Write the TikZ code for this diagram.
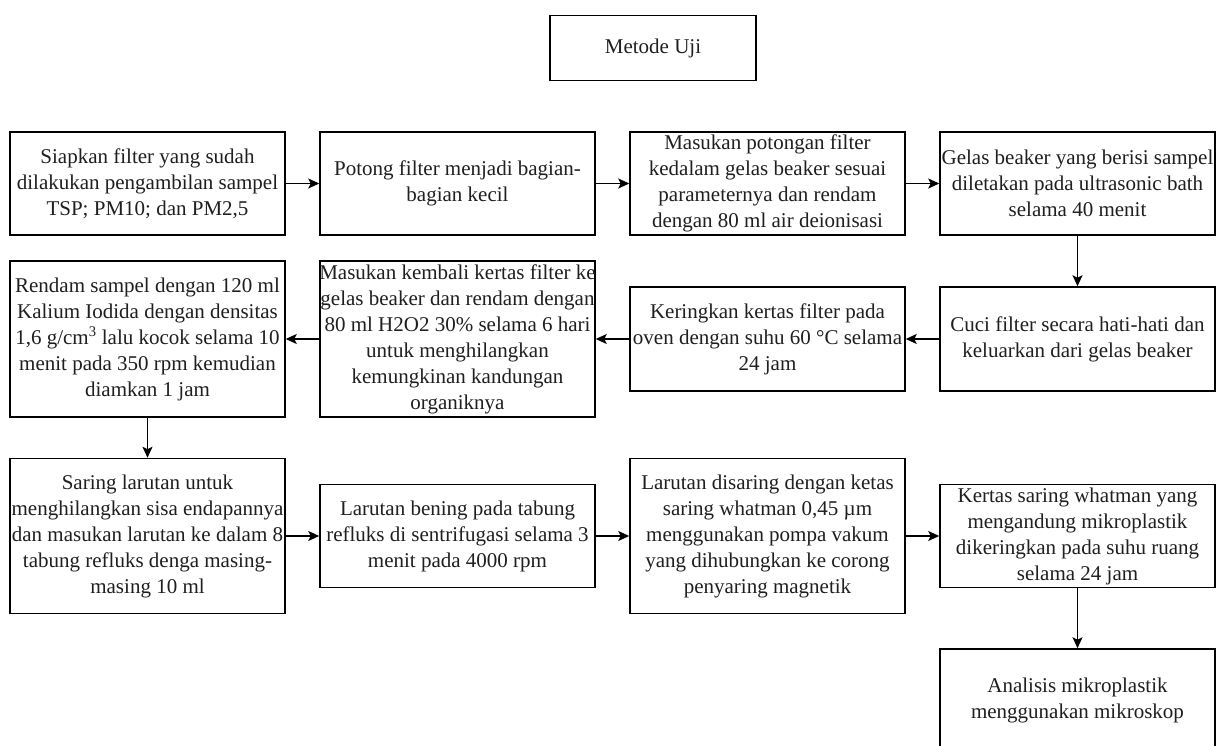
\documentclass[tikz,border=0pt]{standalone}
\usepackage{fontspec}
\setmainfont{Liberation Serif}
\usetikzlibrary{arrows.meta}
\newcommand{\wideline}[1]{\makebox[268pt]{#1}}
\begin{document}
\begin{tikzpicture}[x=1pt,y=-1pt,
  box/.style={draw=black, line width=1.5pt, fill=white, inner sep=0pt,
    align=center, minimum width=275pt, text=black!88,
    font=\fontsize{21}{26}\selectfont},
  flow/.style={draw=black, line width=1.5pt, -{Stealth[length=11pt,width=10pt,inset=2.5pt]}}]
\useasboundingbox (0,0) rectangle (1225,746);
\fill[white] (0,0) rectangle (1225,746);

% title
\node[box, minimum width=206pt, minimum height=65pt] (title) at (653,48) {Metode Uji};

% row 1
\node[box, minimum height=103pt] (b1) at (147.5,183.5) {Siapkan filter yang sudah\\\wideline{dilakukan pengambilan sampel}\\TSP; PM10; dan PM2,5};
\node[box, minimum height=103pt] (b2) at (457.5,183.5) {Potong filter menjadi bagian-\\bagian kecil};
\node[box, minimum height=103pt] (b3) at (767.5,183.5) {Masukan potongan filter\\kedalam gelas beaker sesuai\\parameternya dan rendam\\\wideline{dengan 80 ml air deionisasi}};
\node[box, minimum height=103pt] (b4) at (1077.5,183.5) {\wideline{Gelas beaker yang berisi sampel}\\\wideline{diletakan pada ultrasonic bath}\\selama 40 menit};

% row 2
\node[box, minimum height=104pt] (b8) at (1077.5,339) {\wideline{Cuci filter secara hati-hati dan}\\keluarkan dari gelas beaker};
\node[box, minimum height=104pt] (b7) at (767.5,339) {Keringkan kertas filter pada\\\wideline{oven dengan suhu 60 °C selama}\\24 jam};
\node[box, minimum height=156pt] (b6) at (457.5,339) {\wideline{Masukan kembali kertas filter ke}\\\wideline{gelas beaker dan rendam dengan}\\\wideline{80 ml H2O2 30\% selama 6 hari}\\untuk menghilangkan\\kemungkinan kandungan\\organiknya};
\node[box, minimum height=156pt] (b5) at (147.5,339) {Rendam sampel dengan 120 ml\\\wideline{Kalium Iodida dengan densitas}\\\wideline{1,6 g/cm\textsuperscript{3} lalu kocok selama 10}\\\wideline{menit pada 350 rpm kemudian}\\diamkan 1 jam};

% row 3
\node[box, minimum height=155pt] (b9) at (147.5,536) {Saring larutan untuk\\\wideline{menghilangkan sisa endapannya}\\\wideline{dan masukan larutan ke dalam 8}\\tabung refluks denga masing-\\masing 10 ml};
\node[box, minimum height=103pt] (b10) at (457.5,536) {Larutan bening pada tabung\\\wideline{refluks di sentrifugasi selama 3}\\menit pada 4000 rpm};
\node[box, minimum height=155pt] (b11) at (767.5,536) {\wideline{Larutan disaring dengan ketas}\\saring whatman 0,45 µm\\menggunakan pompa vakum\\yang dihubungkan ke corong\\penyaring magnetik};
\node[box, minimum height=103pt] (b12) at (1077.5,536) {Kertas saring whatman yang\\mengandung mikroplastik\\\wideline{dikeringkan pada suhu ruang}\\selama 24 jam};
\node[box, minimum height=102pt] (b13) at (1077.5,700) {Analisis mikroplastik\\menggunakan mikroskop};

% connectors
\draw[flow] (b1) -- (b2);
\draw[flow] (b2) -- (b3);
\draw[flow] (b3) -- (b4);
\draw[flow] (b4) -- (b8);
\draw[flow] (b8) -- (b7);
\draw[flow] (b7) -- (b6);
\draw[flow] (b6) -- (b5);
\draw[flow] (b5) -- (b9);
\draw[flow] (b9.east |- b10.west) -- (b10);
\draw[flow] (b10) -- (b11);
\draw[flow] (b11) -- (b12);
\draw[flow] (b12) -- (b13);
\end{tikzpicture}
\end{document}
